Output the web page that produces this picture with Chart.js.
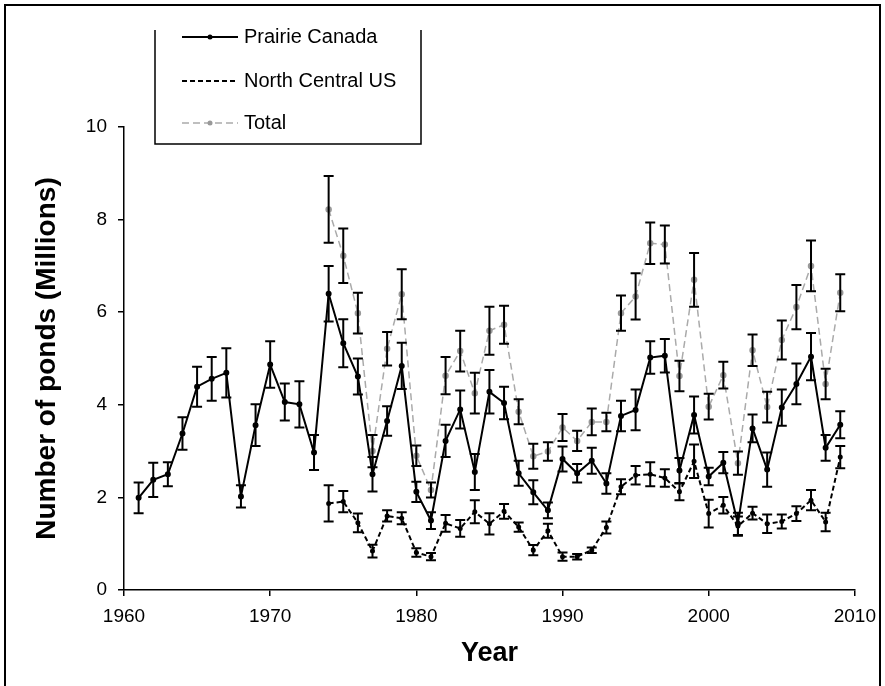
<!DOCTYPE html>
<html>
<head>
<meta charset="utf-8">
<script src="https://cdn.jsdelivr.net/npm/chart.js@4/dist/chart.umd.min.js"></script>
<style>
  html, body { margin: 0; padding: 0; background: #fff; }
  #wrap { position: relative; width: 885px; height: 686px; }
</style>
</head>
<body>
<div id="wrap"><canvas id="c" width="885" height="686"></canvas></div>
<script>
// ---- Data ----
const canadaYears = [1961,1962,1963,1964,1965,1966,1967,1968,1969,1970,1971,1972,1973,1974,1975,1976,1977,1978,1979,1980,1981,1982,1983,1984,1985,1986,1987,1988,1989,1990,1991,1992,1993,1994,1995,1996,1997,1998,1999,2000,2001,2002,2003,2004,2005,2006,2007,2008,2009];
const canadaValues = [1.99,2.38,2.50,3.38,4.39,4.56,4.69,2.02,3.56,4.87,4.06,4.01,2.97,6.40,5.33,4.61,2.50,3.65,4.84,2.12,1.50,3.22,3.90,2.55,4.28,4.04,2.52,2.11,1.72,2.83,2.52,2.79,2.30,3.76,3.89,5.02,5.06,2.58,3.78,2.45,2.75,1.43,3.49,2.60,3.94,4.45,5.04,3.07,3.57];
const canadaErrors = [0.33,0.37,0.26,0.35,0.43,0.47,0.53,0.24,0.45,0.50,0.40,0.50,0.38,0.60,0.52,0.39,0.37,0.32,0.50,0.22,0.18,0.35,0.41,0.39,0.47,0.35,0.27,0.26,0.17,0.27,0.20,0.28,0.22,0.33,0.44,0.35,0.36,0.27,0.40,0.19,0.23,0.24,0.30,0.37,0.39,0.44,0.51,0.28,0.29];

const usYears = [1974,1975,1976,1977,1978,1979,1980,1981,1982,1983,1984,1985,1986,1987,1988,1989,1990,1991,1992,1993,1994,1995,1996,1997,1998,1999,2000,2001,2002,2003,2004,2005,2006,2007,2008,2009];
const usValues = [1.87,1.91,1.45,0.84,1.60,1.55,0.81,0.72,1.44,1.33,1.69,1.43,1.70,1.36,0.86,1.28,0.72,0.72,0.86,1.35,2.23,2.48,2.50,2.42,2.12,2.78,1.65,1.83,1.38,1.66,1.43,1.48,1.65,1.94,1.47,2.87];
const usErrors = [0.39,0.23,0.20,0.14,0.12,0.13,0.09,0.08,0.18,0.18,0.25,0.23,0.16,0.10,0.11,0.15,0.09,0.06,0.06,0.13,0.16,0.20,0.26,0.19,0.18,0.36,0.30,0.18,0.21,0.14,0.20,0.15,0.16,0.22,0.20,0.24];

const totalYears = usYears;
const totalValues = [8.22,7.22,5.98,3.00,5.21,6.39,2.90,2.16,4.63,5.16,4.25,5.60,5.73,3.85,2.89,2.99,3.51,3.22,3.63,3.63,5.98,6.34,7.49,7.46,4.62,6.70,3.96,4.64,2.74,5.18,3.95,5.40,6.11,7.00,4.45,6.42];
const totalErrors = [0.72,0.59,0.44,0.35,0.36,0.54,0.22,0.16,0.40,0.44,0.44,0.52,0.41,0.27,0.27,0.20,0.29,0.22,0.29,0.20,0.38,0.50,0.45,0.41,0.33,0.58,0.28,0.29,0.25,0.34,0.33,0.42,0.48,0.55,0.33,0.40];

const seriesNames = ['Prairie Canada', 'North Central US', 'Total'];
const xTickValues = [1960,1970,1980,1990,2000,2010];
const yTickValues = [0,2,4,6,8,10];

const FONT = "'Liberation Sans', Arial, sans-serif";

function pts(xs, ys) { return xs.map((x, i) => ({ x: x, y: ys[i] })); }

// Error bars drawn through the chart's scales
const errorBarPlugin = {
  id: 'errorBars',
  afterDatasetsDraw(chart) {
    const ctx = chart.ctx, xs = chart.scales.x, ys = chart.scales.y;
    chart.data.datasets.forEach((ds) => {
      const errs = ds.errors;
      if (!errs) return;
      ctx.save();
      ctx.strokeStyle = '#000';
      ctx.lineWidth = 2;
      ctx.setLineDash([]);
      ds.data.forEach((p, j) => {
        const e = errs[j];
        const x = xs.getPixelForValue(p.x);
        const yt = ys.getPixelForValue(p.y + e);
        const yb = ys.getPixelForValue(p.y - e);
        ctx.beginPath();
        ctx.moveTo(x, yt); ctx.lineTo(x, yb);
        ctx.moveTo(x - 5, yt); ctx.lineTo(x + 5, yt);
        ctx.moveTo(x - 5, yb); ctx.lineTo(x + 5, yb);
        ctx.stroke();
      });
      ctx.restore();
    });
  }
};

// Legend box (open at the top) and outer frame
const decorPlugin = {
  id: 'decor',
  afterDraw(chart) {
    const ctx = chart.ctx;
    ctx.save();
    // outer frame
    ctx.strokeStyle = '#000';
    ctx.lineWidth = 2;
    ctx.beginPath();
    ctx.moveTo(5, 686); ctx.lineTo(5, 5); ctx.lineTo(880, 5); ctx.lineTo(880, 686);
    ctx.stroke();
    // legend box
    ctx.lineWidth = 1.5;
    ctx.beginPath();
    ctx.moveTo(155, 30); ctx.lineTo(155, 144); ctx.lineTo(421, 144); ctx.lineTo(421, 30);
    ctx.stroke();
    const rows = [37, 81, 123];
    chart.data.datasets.forEach((ds, i) => {
      const y = rows[i];
      ctx.save();
      ctx.strokeStyle = ds.borderColor;
      ctx.lineWidth = ds.borderWidth;
      ctx.setLineDash(ds.borderDash || []);
      ctx.beginPath(); ctx.moveTo(182, y); ctx.lineTo(238, y); ctx.stroke();
      ctx.restore();
      if (i !== 1) {
        ctx.fillStyle = ds.pointBackgroundColor;
        ctx.beginPath(); ctx.arc(210, y, 2.5, 0, Math.PI * 2); ctx.fill();
      }
      ctx.fillStyle = '#000';
      ctx.font = '20px ' + FONT;
      ctx.textBaseline = 'middle';
      ctx.textAlign = 'left';
      ctx.fillText(ds.label, 244, y);
    });
    ctx.restore();
  }
};

new Chart(document.getElementById('c'), {
  type: 'line',
  data: {
    datasets: [
      {
        label: seriesNames[0],
        data: pts(canadaYears, canadaValues),
        errors: canadaErrors,
        borderColor: '#000', backgroundColor: '#000',
        pointBackgroundColor: '#000', pointBorderColor: '#000',
        borderWidth: 2, pointRadius: 2, pointStyle: 'circle',
        tension: 0, order: 1
      },
      {
        label: seriesNames[1],
        data: pts(usYears, usValues),
        errors: usErrors,
        borderColor: '#000', backgroundColor: '#000',
        pointBackgroundColor: '#000', pointBorderColor: '#000',
        borderWidth: 2, borderDash: [5, 3], pointRadius: 1.5,
        tension: 0, order: 2
      },
      {
        label: seriesNames[2],
        data: pts(totalYears, totalValues),
        errors: totalErrors,
        borderColor: '#aaaaaa', backgroundColor: '#999999',
        pointBackgroundColor: '#999999', pointBorderColor: '#999999',
        borderWidth: 1.5, borderDash: [7, 4], pointRadius: 2.5, pointStyle: 'circle',
        tension: 0, order: 3
      }
    ]
  },
  options: {
    responsive: false,
    animation: false,
    devicePixelRatio: 1,
    layout: { padding: { left: 0, right: 25, top: 127, bottom: 0 } },
    plugins: { legend: { display: false }, tooltip: { enabled: false } },
    scales: {
      x: {
        type: 'linear', min: 1960, max: 2010,
        afterFit(s) { s.height = 96; },
        afterBuildTicks(s) { s.ticks = xTickValues.map(v => ({ value: v })); },
        ticks: { color: '#000', font: { family: FONT, size: 19 }, padding: 9, maxRotation: 0, callback: v => String(v) },
        grid: { display: true, drawOnChartArea: false, drawTicks: true, tickLength: 6, color: '#000', lineWidth: 1.5 },
        border: { display: true, color: '#000', width: 1.5 },
        title: { display: true, text: 'Year', color: '#000', font: { family: FONT, size: 27, weight: 'bold' }, padding: { top: 0, bottom: 16 } }
      },
      y: {
        type: 'linear', min: 0, max: 10,
        afterFit(s) { s.width = 124; },
        afterBuildTicks(s) { s.ticks = yTickValues.map(v => ({ value: v })); },
        ticks: { color: '#000', font: { family: FONT, size: 19 }, padding: 11, callback: v => String(v) },
        grid: { display: true, drawOnChartArea: false, drawTicks: true, tickLength: 6, color: '#000', lineWidth: 1.5 },
        border: { display: true, color: '#000', width: 1.5 },
        title: { display: true, text: 'Number of ponds (Millions)', color: '#000', font: { family: FONT, size: 28, weight: 'bold' }, padding: { top: 30, bottom: 0 } }
      }
    }
  },
  plugins: [errorBarPlugin, decorPlugin]
});
</script>
</body>
</html>
